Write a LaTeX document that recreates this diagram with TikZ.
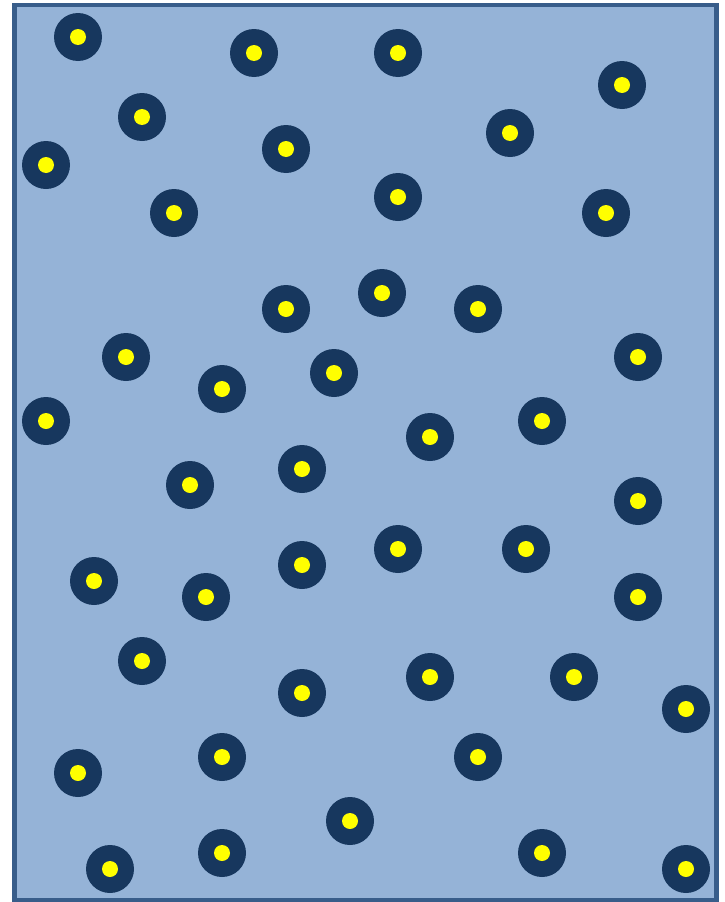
\documentclass[tikz,border=0pt]{standalone}
\usepackage{tikz}
\definecolor{panelfill}{HTML}{95B3D7}
\definecolor{panelline}{HTML}{385D8A}
\definecolor{dotdark}{HTML}{17375E}
\definecolor{dotcore}{HTML}{FFFF00}

\begin{document}
\begin{tikzpicture}[
    x=1pt, y=-1pt,
    panel/.style={draw=panelline, fill=panelfill, line width=4.5pt},
    ring/.style={fill=dotdark},
    core/.style={fill=dotcore}
]
\useasboundingbox (0,0) rectangle (724,902);

% Background panel
\draw[panel] (14.5,5) rectangle (716.5,900);

% Dots
\foreach \px/\py in {78/37, 254/53, 398/53, 622/85, 142/117, 510/133, 46/165,
    286/149, 174/213, 398/197, 606/213, 286/309, 382/293, 478/309, 126/357,
    222/389, 334/373, 638/357, 46/421, 430/437, 542/421, 190/485, 302/469,
    638/501, 94/581, 206/597, 302/565, 398/549, 526/549, 638/597, 142/661,
    302/693, 430/677, 574/677, 686/709, 78/773, 222/757, 478/757, 350/821,
    110/869, 222/853, 542/853, 686/869}{
  \fill[ring] (\px,\py) circle (24);
  \fill[core] (\px,\py) circle (8);
}

\end{tikzpicture}
\end{document}
